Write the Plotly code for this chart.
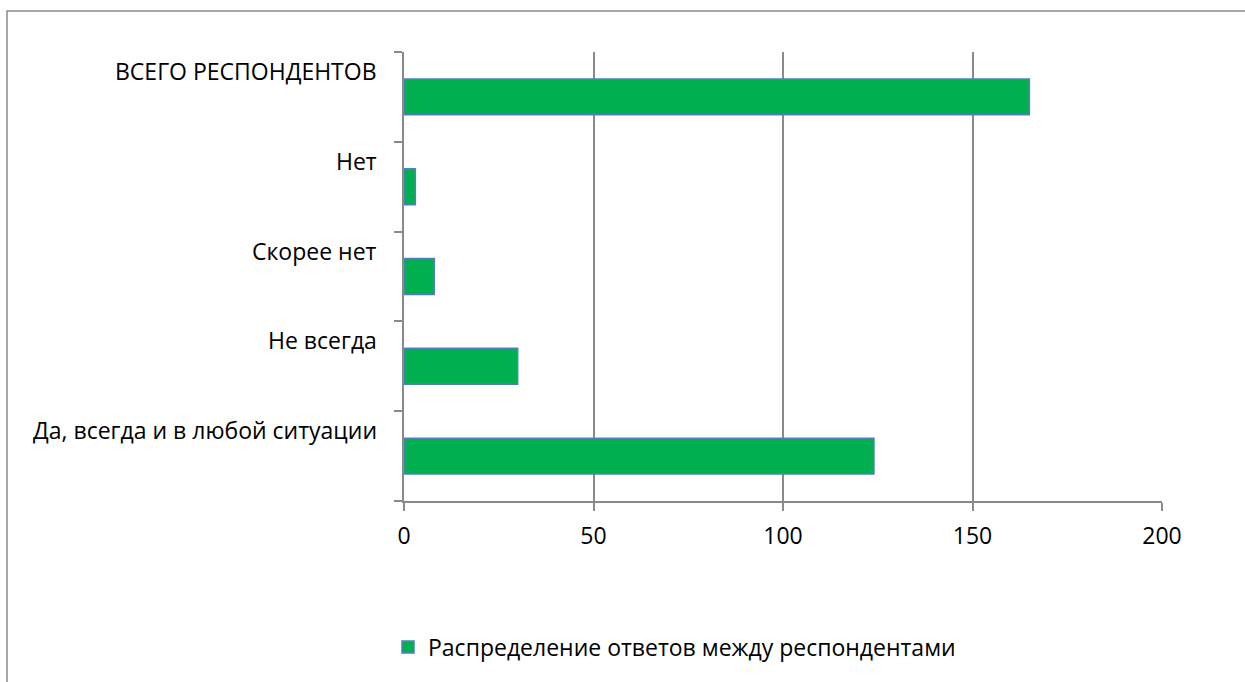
import plotly.graph_objects as go

categories = ["Да, всегда и в любой ситуации", "Не всегда", "Скорее нет", "Нет", "ВСЕГО РЕСПОНДЕНТОВ"]
values = [124, 30, 8, 3, 165]
series_name = "Распределение ответов между респондентами"
x_ticks = [0, 50, 100, 150, 200]

FONT = "Open Sans"
GRAY = "#8a8a8a"

fig = go.Figure()
fig.add_trace(go.Bar(
    y=categories, x=values, orientation="h", name=series_name,
    marker=dict(color="#00B050", line=dict(color="#4F81BD", width=1.5)),
    width=0.4, showlegend=True,
))

for c in categories:
    fig.add_annotation(
        x=0, xref="paper", y=c, yref="y", text=c, showarrow=False,
        xanchor="right", yanchor="middle", xshift=-25, yshift=26,
        font=dict(family=FONT, size=23, color="#000000"),
    )

# outer chart border
L, R, T, B = 404, 1162, 52, 501
W, H = R - L, B - T
fig.add_shape(type="rect", xref="paper", yref="paper",
              x0=(7 - L) / W, x1=(1260 - L) / W,
              y0=(B - 700) / H, y1=(B - 11) / H,
              line=dict(color=GRAY, width=1.5), fillcolor="rgba(0,0,0,0)", layer="below")

fig.update_layout(
    width=1245, height=682,
    margin=dict(l=L, r=1245 - R, t=T, b=682 - B),
    paper_bgcolor="white", plot_bgcolor="white",
    font=dict(family=FONT, size=23, color="#000000"),
    showlegend=True,
    legend=dict(orientation="h", x=(388 - L) / W, xanchor="left",
                y=(B - 647) / H, yanchor="middle",
                font=dict(family=FONT, size=23, color="#000000"),
                bgcolor="rgba(0,0,0,0)"),
    bargap=0.6,
)
fig.update_xaxes(
    range=[0, 200], tickvals=x_ticks, ticktext=[str(v) for v in x_ticks],
    showgrid=True, gridcolor=GRAY, gridwidth=1.5,
    showline=True, linecolor=GRAY, linewidth=1.5,
    ticks="outside", ticklen=8, tickcolor=GRAY, tickwidth=1.5,
    zeroline=False, tickfont=dict(family=FONT, size=23, color="#000000"),
    ticklabelstandoff=6,
)
fig.update_yaxes(
    type="category", categoryorder="array", categoryarray=categories,
    range=[-0.5, 4.5], tickson="boundaries",
    showgrid=False, showline=True, linecolor=GRAY, linewidth=1.5,
    ticks="outside", ticklen=8, tickcolor=GRAY, tickwidth=1.5,
    showticklabels=False, zeroline=False,
)

fig.write_html("out.html", config={"displayModeBar": False},
               post_script="document.body.style.margin='0';document.body.style.overflow='hidden';")
